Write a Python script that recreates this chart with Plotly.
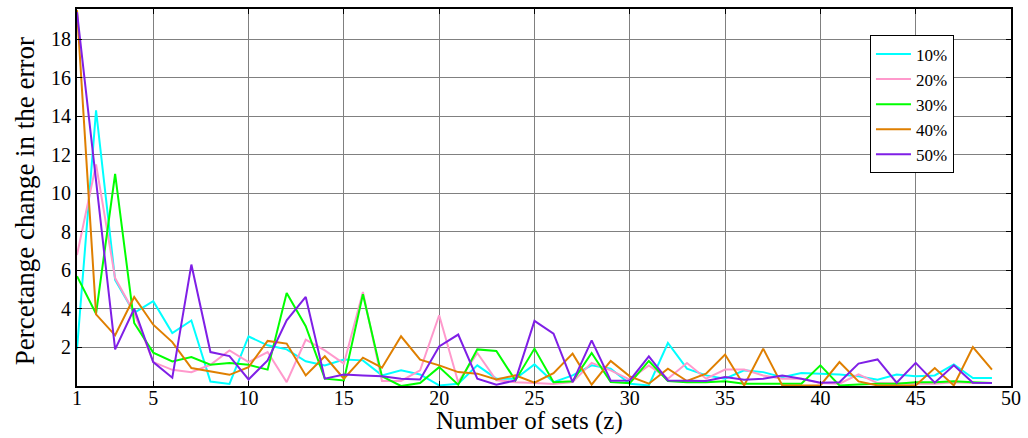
import plotly.graph_objects as go

# Number of sets z = 1..49
sets = list(range(1, 50))

err_10 = [1.9, 14.3, 5.5, 3.8, 4.4, 2.75, 3.4, 0.23, 0.11, 2.57,
          2.11, 1.9, 1.28, 1.07, 1.37, 1.33, 0.55, 0.81, 0.6, 0.03,
          0.12, 1.07, 0.38, 0.38, 1.12, 0.2, 0.55, 1.07, 0.9, 0.12,
          0.03, 2.23, 0.9, 0.55, 0.38, 0.81, 0.72, 0.46, 0.67, 0.64,
          0.6, 0.5, 0.33, 0.6, 0.5, 0.55, 1.12, 0.41, 0.41]

err_20 = [6.8, 11.5, 5.6, 3.8, 1.24, 0.84, 0.72, 1.1, 1.85, 1.24,
          1.76, 0.2, 2.4, 1.85, 1.16, 4.88, 0.26, 0.26, 0.81, 3.67,
          0.2, 1.71, 0.3, 0.2, 0.15, 0.1, 0.2, 1.2, 0.81, 0.33,
          1.07, 0.38, 1.19, 0.38, 0.85, 0.85, 0.55, 0.38, 0.38, 0.15,
          0.12, 0.6, 0.15, 0.12, 0.12, 0.12, 0.2, 0.15, 0.15]

err_30 = [5.7, 3.75, 11.0, 3.27, 1.73, 1.27, 1.5, 1.1, 1.19, 1.1,
          0.85, 4.83, 3.1, 0.38, 0.29, 4.76, 0.5, 0.0, 0.15, 0.98,
          0.07, 1.9, 1.82, 0.29, 1.94, 0.2, 0.24, 1.71, 0.2, 0.15,
          1.3, 0.26, 0.2, 0.2, 0.24, 0.12, 0.12, 0.12, 0.12, 1.07,
          0.03, 0.08, 0.12, 0.12, 0.2, 0.2, 0.24, 0.2, 0.15]

err_40 = [19.5, 3.72, 2.63, 4.62, 3.18, 2.28, 0.93, 0.77, 0.58, 0.98,
          2.34, 2.2, 0.55, 1.54, 0.38, 1.47, 0.95, 2.58, 1.37, 1.07,
          0.72, 0.64, 0.34, 0.55, 0.17, 0.67, 1.68, 0.07, 1.3, 0.5,
          0.12, 0.9, 0.26, 0.64, 1.63, 0.03, 1.94, 0.03, 0.03, 0.03,
          1.24, 0.24, 0.03, 0.03, 0.03, 0.93, 0.03, 2.02, 0.85]

err_50 = [19.4, 10.5, 1.9, 4.01, 1.24, 0.43, 6.3, 1.76, 1.55, 0.34,
          1.33, 3.41, 4.62, 0.38, 0.6, 0.55, 0.5, 0.38, 0.34, 2.05,
          2.67, 0.38, 0.07, 0.29, 3.38, 2.72, 0.2, 2.37, 0.27, 0.29,
          1.54, 0.29, 0.26, 0.26, 0.46, 0.33, 0.38, 0.55, 0.38, 0.17,
          0.2, 1.16, 1.38, 0.17, 1.2, 0.17, 1.07, 0.17, 0.15]

series_names = ["10%", "20%", "30%", "40%", "50%"]
series_values = [err_10, err_20, err_30, err_40, err_50]
series_colors = ["#00FFFF", "#FF99CC", "#00FF00", "#DF7F00", "#7F1FE6"]

x_ticks = [1, 5, 10, 15, 20, 25, 30, 35, 40, 45, 50]
y_ticks = [2, 4, 6, 8, 10, 12, 14, 16, 18]

x_title = "Number of sets (z)"
y_title = "Percetange change in the error"

FONT = "Liberation Serif, Times New Roman, serif"

fig = go.Figure()
for name, vals, col in zip(series_names, series_values, series_colors):
    fig.add_trace(go.Scatter(
        x=sets, y=vals, mode="lines", name=name,
        line=dict(color=col, width=2),
    ))

axis_common = dict(
    showline=True, linecolor="black", linewidth=2, mirror="ticks",
    ticks="inside", ticklen=5, tickcolor="black", tickwidth=1,
    showgrid=True, gridcolor="#808080", gridwidth=1,
    zeroline=False, automargin=False,
    tickfont=dict(family=FONT, size=20, color="black"),
)

fig.update_xaxes(
    range=[1, 50], tickvals=x_ticks, ticktext=[str(v) for v in x_ticks],
    ticklabelstandoff=-7,
    **axis_common,
)
fig.update_yaxes(
    range=[0, 19.56], tickvals=y_ticks, ticktext=[str(v) for v in y_ticks],
    **axis_common,
)

# Axis titles placed as paper-anchored text so they sit tight to the frame
fig.add_annotation(
    text=x_title, xref="paper", yref="paper", x=0.485, y=0, yshift=-35,
    xanchor="center", yanchor="middle", showarrow=False,
    font=dict(family=FONT, size=25, color="black"),
)
fig.add_annotation(
    text=y_title, xref="paper", yref="paper", x=0, y=0.49, xshift=-52,
    xanchor="center", yanchor="middle", textangle=-90, showarrow=False,
    font=dict(family=FONT, size=27, color="black"),
)

fig.update_layout(
    width=1028, height=438,
    margin=dict(l=77, r=17, t=9, b=52),
    paper_bgcolor="white", plot_bgcolor="white",
    font=dict(family=FONT, color="black"),
    legend=dict(
        x=0.849, y=0.93, xanchor="left", yanchor="top",
        bgcolor="white", bordercolor="black", borderwidth=1,
        font=dict(family=FONT, size=17, color="black"),
        tracegroupgap=0, itemwidth=35,
    ),
)

fig.write_html("out.html")
